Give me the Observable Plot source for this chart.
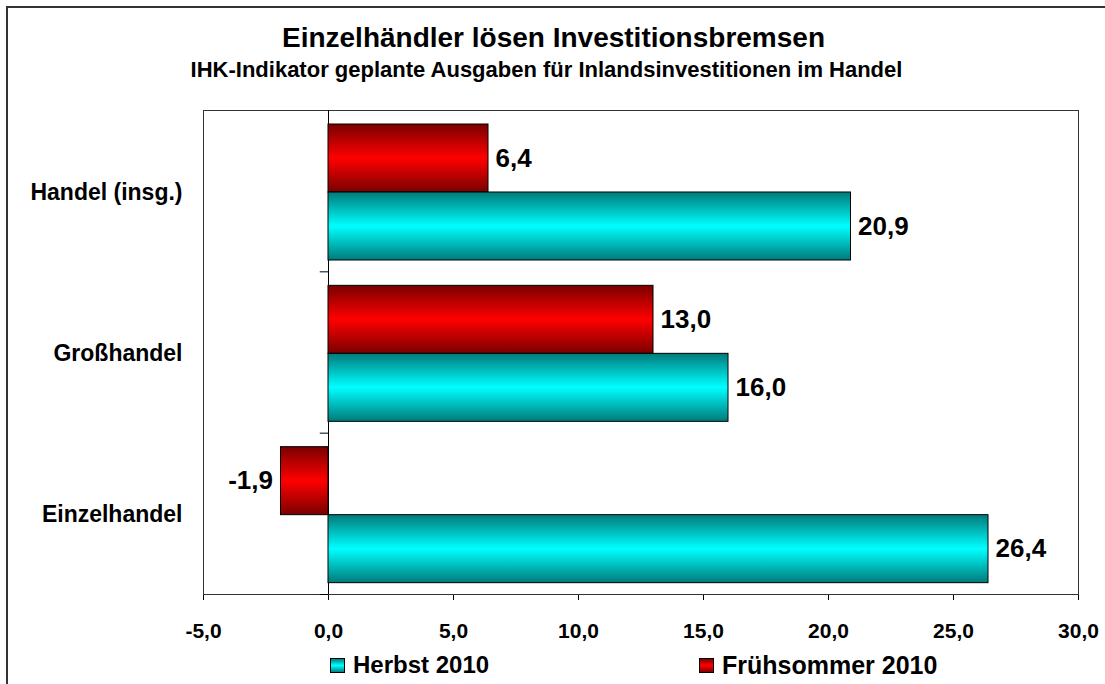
<!DOCTYPE html>
<html>
<head>
<meta charset="utf-8">
<script src="https://cdn.jsdelivr.net/npm/d3@7"></script>
<script src="https://cdn.jsdelivr.net/npm/@observablehq/plot@0.6"></script>
<style>
  html, body { margin: 0; padding: 0; background: #fff; }
  #wrap { position: relative; width: 1105px; height: 684px; overflow: hidden; font-family: "Liberation Sans", Arial, sans-serif; font-weight: bold; color: #000; }
  #frame { position: absolute; left: 6px; top: 6px; width: 1200px; height: 800px; border-left: 2px solid #333; border-top: 2px solid #333; }
  #chart { position: absolute; left: 0; top: 0; }
  .txt { position: absolute; left: 0; width: 1105px; text-align: center; line-height: 1; white-space: nowrap; }
  #title { top: 24px; font-size: 28px; left: 1px; }
  #subtitle { top: 59px; font-size: 22px; left: -6px; }
  .leg { position: absolute; top: 653px; font-size: 24px; line-height: 1; white-space: nowrap; display: flex; align-items: center; }
  .sw { width: 13px; height: 13px; border: 1px solid #000; margin-right: 8px; }
</style>
</head>
<body>
<div id="wrap">
  <div id="frame"></div>
  <div id="chart"></div>
  <div class="txt" id="title">Einzelhändler lösen Investitionsbremsen</div>
  <div class="txt" id="subtitle">IHK-Indikator geplante Ausgaben für Inlandsinvestitionen im Handel</div>
  <div class="leg" id="leg1" style="left:330px"><div class="sw" style="background:linear-gradient(to bottom,#008080,#00ffff,#008080)"></div><span>Herbst 2010</span></div>
  <div class="leg" id="leg2" style="left:699px;font-size:25px"><div class="sw" style="background:linear-gradient(to bottom,#800000,#ff0000,#800000)"></div><span>Frühsommer 2010</span></div>
</div>
<script>
const categories = ["Handel (insg.)", "Großhandel", "Einzelhandel"];
const herbst2010 = [20.9, 16.0, 26.4];
const fruehsommer2010 = [6.4, 13.0, -1.9];
const xTicks = [-5, 0, 5, 10, 15, 20, 25, 30];
const seriesNames = ["Herbst 2010", "Frühsommer 2010"];

const herbstData = categories.map((c, i) => ({cat: c, value: herbst2010[i], series: seriesNames[0]}));
const fruehData = categories.map((c, i) => ({cat: c, value: fruehsommer2010[i], series: seriesNames[1]}));

const fmt = v => v.toFixed(1).replace(".", ",");
const W = 1105, H = 684;
const mL = 203, mR = 27, mT = 110, mB = 90;
const band = (H - mT - mB) / categories.length;
const half = band / 2;

const labelFont = {fontSize: 26, fontWeight: "bold", fill: "#000"};

const plot = Plot.plot({
  width: W,
  height: H,
  marginLeft: mL,
  marginRight: mR,
  marginTop: mT,
  marginBottom: mB,
  style: {fontFamily: "'Liberation Sans', Arial, sans-serif", fontSize: "21px", fontWeight: "bold", color: "#000", background: "transparent", overflow: "visible"},
  x: {domain: [-5, 30], ticks: xTicks, tickFormat: fmt, tickSize: 6, tickPadding: 23, label: null},
  y: {domain: categories, paddingInner: 0, paddingOuter: 0, round: false, axis: null},
  marks: [
    Plot.frame({stroke: "#333", strokeWidth: 1}),
    Plot.ruleX([0], {stroke: "#000", strokeWidth: 1}),
    Plot.ruleY(categories, {y: d => d, x1: -0.33, x2: 0, dy: half, stroke: "#000"}),
    Plot.barX(fruehData, {x: "value", y: "cat", fill: "url(#gradRed)", stroke: "#000", strokeWidth: 1, insetTop: 14, insetBottom: band - 82}),
    Plot.barX(herbstData, {x: "value", y: "cat", fill: "url(#gradCyan)", stroke: "#000", strokeWidth: 1, insetTop: 82, insetBottom: band - 150}),
    Plot.text(fruehData.filter(d => d.value >= 0), {x: "value", y: "cat", text: d => fmt(d.value), dy: 48 - half, dx: 7, textAnchor: "start", ...labelFont}),
    Plot.text(fruehData.filter(d => d.value < 0), {x: "value", y: "cat", text: d => fmt(d.value), dy: 48 - half, dx: -8, textAnchor: "end", ...labelFont}),
    Plot.text(herbstData, {x: "value", y: "cat", text: d => fmt(d.value), dy: 116 - half, dx: 7, textAnchor: "start", ...labelFont}),
    Plot.text(categories, {y: d => d, text: d => d, frameAnchor: "left", dx: -21, dy: 1, textAnchor: "end", fontSize: 23, fontWeight: "bold", fill: "#000"})
  ]
});

const svg = d3.select(plot);
const defs = svg.insert("defs", ":first-child");
function grad(id, edge, mid) {
  const g = defs.append("linearGradient").attr("id", id).attr("x1", 0).attr("y1", 0).attr("x2", 0).attr("y2", 1);
  g.append("stop").attr("offset", "0%").attr("stop-color", edge);
  g.append("stop").attr("offset", "50%").attr("stop-color", mid);
  g.append("stop").attr("offset", "100%").attr("stop-color", edge);
}
grad("gradRed", "#7a0000", "#ff0000");
grad("gradCyan", "#007a7a", "#00ffff");

document.getElementById("chart").appendChild(plot);
</script>
</body>
</html>
